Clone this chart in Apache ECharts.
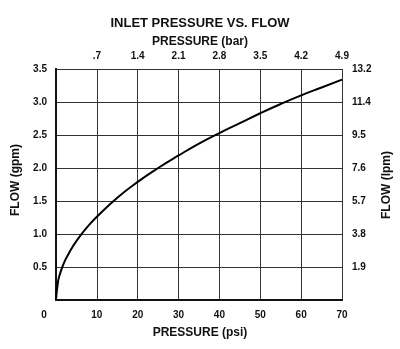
<!DOCTYPE html>
<html><head><meta charset="utf-8">
<script src="https://cdn.jsdelivr.net/npm/echarts@6/dist/echarts.min.js"></script>
<style>html,body{margin:0;padding:0;background:#fff}#c{width:400px;height:349px}</style>
</head><body><div id="c"></div>
<script>
const pressurePsi = [0, 0.5, 1, 2, 3, 4, 6, 8, 10, 15, 20, 25, 30, 35, 40, 45, 50, 55, 60, 65, 70];
const flowGpm = [0, 0.28, 0.40, 0.57, 0.69, 0.80, 0.98, 1.13, 1.26, 1.55, 1.79, 2.00, 2.19, 2.37, 2.53, 2.68, 2.83, 2.97, 3.10, 3.22, 3.34];
const psiTicks = [0, 10, 20, 30, 40, 50, 60, 70];
const barLabels = ['', '.7', '1.4', '2.1', '2.8', '3.5', '4.2', '4.9'];
const gpmTicks = [0, 0.5, 1.0, 1.5, 2.0, 2.5, 3.0, 3.5];
const lpmLabels = ['', '1.9', '3.8', '5.7', '7.6', '9.5', '11.4', '13.2'];

const FONT = '"Liberation Sans", Arial, sans-serif';
const lbl = {fontFamily: FONT, fontWeight: 'bold', fontSize: 10, color: '#111'};
const chart = echarts.init(document.getElementById('c'), null, {renderer: 'canvas'});
const axisLine = {show: true, lineStyle: {color: '#111', width: 2}};
const split = {show: true, lineStyle: {color: '#333', width: 1}};
chart.setOption({
  animation: false,
  backgroundColor: '#fff',
  title: [
    {text: 'INLET PRESSURE VS. FLOW', left: 'center', top: 12,
     textStyle: {fontFamily: FONT, fontWeight: 'bold', fontSize: 13, color: '#111'}},
    {text: 'PRESSURE (bar)', left: 'center', top: 31,
     textStyle: {fontFamily: FONT, fontWeight: 'bold', fontSize: 12, color: '#111'}}
  ],
  graphic: [
    {type: 'text', left: 'center', top: 327, style: {text: 'PRESSURE (psi)', font: 'bold 12px ' + FONT, fill: '#111'}},
    {type: 'text', x: 16, y: 180, rotation: Math.PI / 2, style: {text: 'FLOW (gpm)', font: 'bold 12px ' + FONT, fill: '#111', align: 'center', verticalAlign: 'middle'}},
    {type: 'text', x: 387, y: 185, rotation: Math.PI / 2, style: {text: 'FLOW (lpm)', font: 'bold 12px ' + FONT, fill: '#111', align: 'center', verticalAlign: 'middle'}}
  ],
  grid: {left: 56, right: 58, top: 69, bottom: 49, show: false},
  xAxis: [
    {type: 'value', position: 'bottom', min: psiTicks[0], max: psiTicks[psiTicks.length - 1], interval: 10,
     axisLine: axisLine, axisTick: {show: false}, splitLine: split,
     axisLabel: Object.assign({}, lbl, {margin: 10,
       formatter: v => v === 0 ? '{z|0}' : String(v),
       rich: {z: {fontFamily: FONT, fontWeight: 'bold', fontSize: 10, color: '#111', padding: [0, 24, 0, 0]}}})},
    {type: 'value', position: 'top', min: psiTicks[0], max: psiTicks[psiTicks.length - 1], interval: 10,
     axisLine: axisLine, axisTick: {show: false}, splitLine: {show: false},
     axisLabel: Object.assign({}, lbl, {margin: 8, formatter: v => barLabels[psiTicks.indexOf(v)] || ''})}
  ],
  yAxis: [
    {type: 'value', position: 'left', min: gpmTicks[0], max: gpmTicks[gpmTicks.length - 1], interval: 0.5,
     axisLine: axisLine, axisTick: {show: false}, splitLine: split,
     axisLabel: Object.assign({}, lbl, {margin: 9, formatter: v => v === 0 ? '' : v.toFixed(1)})},
    {type: 'value', position: 'right', min: gpmTicks[0], max: gpmTicks[gpmTicks.length - 1], interval: 0.5,
     axisLine: axisLine, axisTick: {show: false}, splitLine: {show: false},
     axisLabel: Object.assign({}, lbl, {margin: 10, formatter: v => lpmLabels[gpmTicks.indexOf(v)] || ''})}
  ],
  series: [{
    type: 'line', xAxisIndex: 0, yAxisIndex: 0, smooth: true, showSymbol: false,
    lineStyle: {color: '#000', width: 2},
    data: pressurePsi.map((p, i) => [p, flowGpm[i]])
  }]
});
</script></body></html>
